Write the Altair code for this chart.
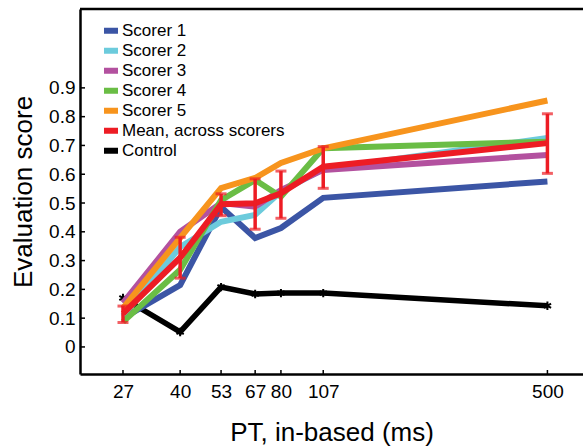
import altair as alt
import pandas as pd

# ---- data ----
pt = [27, 40, 53, 67, 80, 107, 500]
scorer1 = [0.100, 0.215, 0.486, 0.378, 0.413, 0.518, 0.575]
scorer2 = [0.108, 0.347, 0.435, 0.459, 0.540, 0.618, 0.726]
scorer3 = [0.153, 0.400, 0.500, 0.487, 0.545, 0.615, 0.667]
scorer4 = [0.087, 0.268, 0.510, 0.580, 0.522, 0.690, 0.713]
scorer5 = [0.135, 0.379, 0.552, 0.587, 0.639, 0.690, 0.856]
mean = [0.116, 0.310, 0.496, 0.499, 0.534, 0.626, 0.708]
err_lo = [0.085, 0.239, 0.456, 0.409, 0.447, 0.551, 0.603]
err_hi = [0.142, 0.381, 0.532, 0.584, 0.611, 0.696, 0.810]
control = [0.170, 0.052, 0.208, 0.184, 0.187, 0.187, 0.143]

series_names = ["Scorer 1", "Scorer 2", "Scorer 3", "Scorer 4", "Scorer 5",
                "Mean, across scorers", "Control"]
series_colors = ["#3b55a5", "#6ccbdc", "#b3519f", "#6abd45", "#f7941d",
                 "#ed1c24", "#000000"]
y_ticks = [0, 0.1, 0.2, 0.3, 0.4, 0.5, 0.6, 0.7, 0.8, 0.9]

rows = []
for name, vals in zip(series_names,
                      [scorer1, scorer2, scorer3, scorer4, scorer5, mean, control]):
    for p, v in zip(pt, vals):
        rows.append({"series": name, "pt": p, "value": v})
df = pd.DataFrame(rows)
err = pd.DataFrame({"pt": pt, "lo": err_lo, "hi": err_hi})
ytick_df = pd.DataFrame({"value": y_ticks})
xtick_df = pd.DataFrame({"pt": pt})

W, H = 503, 365
FONT = "Liberation Sans"

xscale = alt.Scale(type="log", domain=[20.09, 638.6], nice=False)
yscale = alt.Scale(domain=[-0.094, 1.174], nice=False, zero=False)

x_axis = alt.Axis(values=pt, title="PT, in-based (ms)", ticks=False, tickSize=0,
                  labelPadding=8, labelFontSize=19, labelColor="black",
                  labelOverlap=False, labelFlush=False, format="d",
                  domainColor="black", domainWidth=2.5, grid=False,
                  titleFontSize=26, titleFontWeight="normal", titleColor="black",
                  titleBaseline="alphabetic", titleY=66, titleX=W / 2)
y_axis = alt.Axis(values=y_ticks, title="Evaluation score", ticks=False, tickSize=0,
                  labelPadding=5, labelFontSize=19, labelColor="black",
                  labelOverlap=False, labelFlush=False, format=".1~f",
                  domainColor="black", domainWidth=2.5, grid=False,
                  titleFontSize=26, titleFontWeight="normal", titleColor="black",
                  titleBaseline="alphabetic", titleAngle=270, titleAlign="center",
                  titleX=-49, titleY=H / 2)

X = alt.X("pt:Q", scale=xscale, axis=x_axis)
Y = alt.Y("value:Q", scale=yscale, axis=y_axis)

color = alt.Color("series:N",
                  scale=alt.Scale(domain=series_names, range=series_colors),
                  legend=alt.Legend(title=None, orient="none", legendX=21, legendY=12,
                                    symbolType="stroke", symbolStrokeWidth=6,
                                    symbolSize=196, labelFontSize=17,
                                    labelColor="black", labelOffset=1,
                                    labelLimit=0, rowPadding=0, clipHeight=19.7,
                                    padding=0))

base = alt.Chart(df)

control_line = base.transform_filter(alt.datum.series == "Control").mark_line(
    strokeWidth=5.5).encode(x=X, y=Y, color=color)
star = "M0,-1L0,1M-0.87,-0.5L0.87,0.5M-0.87,0.5L0.87,-0.5"
control_pts = base.transform_filter(alt.datum.series == "Control").mark_point(
    shape=star, filled=False, color="black", strokeWidth=2, size=70, opacity=1
).encode(x=X, y=Y)

scorer_layers = [
    base.transform_filter(alt.datum.series == s).mark_line(strokeWidth=6).encode(
        x=X, y=Y, color=color)
    for s in series_names[:5]
]

mean_line = base.transform_filter(alt.datum.series == "Mean, across scorers").mark_line(
    strokeWidth=6).encode(x=X, y=Y, color=color)

err_rule = alt.Chart(err).mark_rule(color="#ed1c24", strokeWidth=3.5).encode(
    x=X, y=alt.Y("lo:Q", scale=yscale, axis=y_axis), y2="hi:Q")
err_caps = alt.Chart(err).transform_fold(["lo", "hi"], as_=["k", "value"]).mark_tick(
    orient="horizontal", size=11, thickness=3, color="#ed1c24").encode(
    x=X, y=alt.Y("value:Q", scale=yscale, axis=y_axis))

ytick_marks = alt.Chart(ytick_df).mark_rule(color="black", strokeWidth=1.5).encode(
    y=alt.Y("value:Q", scale=yscale, axis=y_axis), x=alt.value(0), x2=alt.value(5))
xtick_marks = alt.Chart(xtick_df).mark_rule(color="black", strokeWidth=1.5).encode(
    x=X, y=alt.value(H), y2=alt.value(H - 4))

top_border = alt.Chart(pd.DataFrame({"a": [0]})).mark_rule(
    color="black", strokeWidth=2.5).encode(
    x=alt.value(0), x2=alt.value(W), y=alt.value(0))

chart = alt.layer(
    control_line, control_pts, *scorer_layers, mean_line, err_rule, err_caps,
    ytick_marks, xtick_marks, top_border
).properties(
    width=W, height=H,
    padding={"left": 80, "top": 9, "right": 0, "bottom": 73},
    autosize=alt.AutoSizeParams(type="none"),
).configure(font=FONT).configure_view(stroke=None)

chart.save("out.html", embed_options={"renderer": "svg", "actions": False})
